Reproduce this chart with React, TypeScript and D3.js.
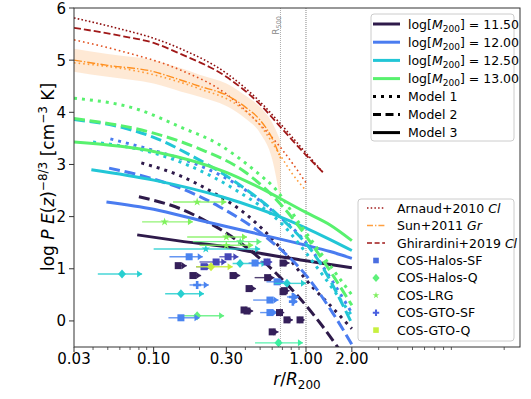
import React from 'react';
import * as d3 from 'd3';

const W = 531;
const H = 399;

// ---- model curves: [r/R200, log P] per halo mass and model ----
const m115Dot = [[0.083, 3.03], [0.15, 2.78], [0.246, 2.46], [0.41, 2.03], [0.67, 1.42], [1.1, 0.65], [1.44, 0.3], [2.0, -0.15]];
const m115Dash = [[0.08, 2.38], [0.15, 2.15], [0.225, 1.9], [0.37, 1.5], [0.67, 0.85], [1.23, -0.03], [2.0, -0.9]];
const m115Solid = [[0.078, 1.65], [0.15, 1.53], [0.3, 1.42], [0.43, 1.33], [0.92, 1.17], [1.44, 1.08], [2.0, 1.02]];
const m12Dot = [[0.052, 3.49], [0.105, 3.25], [0.2, 2.98], [0.35, 2.62], [0.58, 2.15], [1.0, 1.5], [1.5, 0.75], [2.0, 0.15]];
const m12Dash = [[0.051, 2.93], [0.1, 2.72], [0.149, 2.55], [0.27, 2.19], [0.55, 1.6], [1.03, 0.83], [1.5, 0.15], [2.0, -0.45]];
const m12Solid = [[0.049, 2.28], [0.1, 2.14], [0.2, 1.93], [0.45, 1.69], [1.0, 1.45], [1.44, 1.33], [2.0, 1.2]];
const m125Dot = [[0.04, 3.43], [0.1, 3.22], [0.17, 2.98], [0.35, 2.5], [0.7, 1.85], [1.2, 1.0], [2.0, 0.1]];
const m125Dash = [[0.03, 3.86], [0.06, 3.72], [0.1, 3.52], [0.174, 3.18], [0.35, 2.65], [0.67, 2.0], [1.2, 1.17], [2.0, -0.05]];
const m125Solid = [[0.039, 2.9], [0.1, 2.7], [0.28, 2.38], [0.67, 2.0], [1.44, 1.56], [2.0, 1.35]];
const m13Dot = [[0.03, 4.27], [0.08, 4.05], [0.149, 3.72], [0.27, 3.38], [0.36, 3.13], [0.48, 2.84], [0.63, 2.53], [0.92, 1.84], [2.0, 0.5]];
const m13Dash = [[0.03, 3.88], [0.1, 3.6], [0.2, 3.3], [0.4, 2.85], [0.7, 2.2], [1.2, 1.3], [2.0, 0.3]];
const m13Solid = [[0.03, 3.43], [0.1, 3.25], [0.3, 2.85], [0.456, 2.61], [1.0, 2.08], [1.44, 1.84], [2.0, 1.54]];

// ---- observed cluster / group profiles ----
const arnaudHi = [[0.03, 5.81], [0.06, 5.6], [0.1, 5.42], [0.15, 5.22], [0.3, 4.75], [0.5, 4.2], [0.67, 3.8], [1.0, 3.22], [1.3, 2.84]];
const arnaudMid = [[0.03, 5.39], [0.06, 5.18], [0.15, 4.81], [0.3, 4.35], [0.43, 3.95], [0.67, 3.35], [1.0, 2.65]];
const arnaudLo = [[0.03, 4.95], [0.1, 4.72], [0.2, 4.45], [0.35, 4.15], [0.5, 3.75], [0.67, 3.2], [0.8, 2.85], [1.0, 2.5]];
const ghirardini = [[0.03, 5.62], [0.06, 5.47], [0.1, 5.33], [0.15, 5.12], [0.3, 4.68], [0.5, 4.15], [0.67, 3.74], [1.0, 3.18], [1.3, 2.84]];
const sunX = [0.03, 0.05, 0.1, 0.15, 0.2, 0.3, 0.4, 0.5, 0.6, 0.68];
const sunY = [5.0, 4.9, 4.78, 4.62, 4.5, 4.33, 4.1, 3.85, 3.5, 3.12];
const sunLo = [4.78, 4.68, 4.55, 4.4, 4.3, 4.12, 3.88, 3.6, 3.1, 2.3];
const sunHi = [5.22, 5.12, 5.0, 4.85, 4.72, 4.55, 4.32, 4.1, 3.8, 3.45];

// ---- absorber lower limits ----
const obsX = [0.193, 0.118, 0.30, 0.37, 0.22, 0.30, 0.171, 0.257, 0.308, 0.369, 0.463, 0.555, 0.707, 0.145, 0.214, 0.238, 0.062, 0.181, 0.332, 0.56, 0.646, 0.75, 0.193, 0.423, 0.72, 0.82, 0.151, 0.58, 0.82, 0.392, 0.41, 0.58, 0.67, 0.193, 0.151, 0.75, 0.914, 0.60, 0.66, 0.707];
const obsLo = [0.134, 0.084, 0.166, 0.181, 0.10, 0.20, 0.127, 0.20, 0.27, 0.33, 0.42, 0.50, 0.707, 0.145, 0.19, 0.19, 0.043, 0.181, 0.332, 0.46, 0.55, 0.62, 0.172, 0.423, 0.72, 0.75, 0.119, 0.45, 0.78, 0.392, 0.41, 0.5, 0.67, 0.145, 0.125, 0.75, 0.914, 0.60, 0.463, 0.707];
const obsHi = [0.30, 0.181, 0.41, 0.51, 0.50, 0.45, 0.21, 0.30, 0.36, 0.55, 0.50, 0.60, 0.78, 0.165, 0.24, 0.33, 0.084, 0.205, 0.37, 0.62, 0.72, 1.0, 0.23, 0.47, 0.78, 0.9, 0.214, 0.66, 0.88, 0.43, 0.45, 0.65, 0.72, 0.29, 0.20, 0.82, 0.98, 0.66, 0.955, 0.76];
const obsY = [2.28, 1.90, 1.61, 1.52, 1.38, 1.45, 1.23, 1.13, 1.23, 1.10, 1.11, 1.13, 1.11, 1.06, 1.04, 1.04, 0.90, 0.87, 0.87, 0.83, 0.75, 0.72, 0.69, 0.62, 0.58, 0.46, 0.52, 0.40, 0.37, 0.21, 0.19, 0.16, 0.16, 0.10, 0.06, 0.02, 0.02, -0.21, -0.42, 0.56];
const obsKind = ['st', 'st', 'st', 'st', 'st', 'st', 'sq', 'sq', 'sq', 'dm', 'sq', 'sq', 'sq', 'sq', 'sq', 'dm', 'dm', 'sq', 'sq', 'sq', 'sq', 'dm', 'pl', 'sq', 'sq', 'pl', 'dm', 'sq', 'pl', 'sq', 'sq', 'sq', 'sq', 'dm', 'sq', 'sq', 'sq', 'sq', 'dm', 'sq'];
const obsColor = ['lgreen', 'lgreen', 'lgreen', 'green', 'cyan', 'lgreen', 'blue', 'indigo', 'indigo', 'cyan', 'blue', 'indigo', 'dark', 'dark', 'indigo', 'yellow', 'cyan', 'dark', 'dark', 'dark', 'blue', 'cyan', 'blue', 'dark', 'dark', 'blue', 'cyan', 'blue', 'blue', 'dark', 'dark', 'blue', 'dark', 'green', 'blue', 'dark', 'dark', 'dark', 'spring', 'dark'];

const massLabels = ['11.50', '12.00', '12.50', '13.00'];
const xTickValues = [0.03, 0.1, 0.3, 1, 2];
const xTickLabels = ['0.03', '0.10', '0.30', '1.00', '2.00'];
const yTickValues = [0, 1, 2, 3, 4, 5, 6];

const massColors = ['#2e1a4a', '#4a7cf0', '#22c6d6', '#58f16e'];
const pointColors: Record<string, string> = {
  dark: '#35205a', indigo: '#4647b8', blue: '#4a84f0', cyan: '#27cfd0',
  spring: '#3cf0a0', green: '#60f080', lgreen: '#80f25c', yellow: '#c6ee3c',
};

const x = d3.scaleLog().domain([0.03, 25.4]).range([74, 520]);
const y = d3.scaleLinear().domain([-0.5, 6]).range([347, 8]);
const line = d3.line<number[]>().x(d => x(d[0])).y(d => y(d[1])).curve(d3.curveMonotoneX);
const sunArea = d3.area<number>()
  .x((_, i) => x(sunX[i])).y0((_, i) => y(sunLo[i])).y1((_, i) => y(sunHi[i]))
  .curve(d3.curveMonotoneX);

const DOT = '3,5';
const DASH = '11,4.8';

function marker(kind: string, cx: number, cy: number, fill: string, s = 1) {
  if (kind === 'sq') return <rect x={cx - 3.5 * s} y={cy - 3.5 * s} width={7 * s} height={7 * s} fill={fill} />;
  if (kind === 'dm') return <path d={`M${cx},${cy - 4.5 * s}L${cx + 4 * s},${cy}L${cx},${cy + 4.5 * s}L${cx - 4 * s},${cy}Z`} fill={fill} />;
  if (kind === 'st') {
    const star = d3.symbol(d3.symbolStar, 22 * s * s)();
    return <path d={star || ''} transform={`translate(${cx},${cy})`} fill={fill} />;
  }
  return <path d={`M${cx - 4 * s},${cy}H${cx + 4 * s}M${cx},${cy - 4 * s}V${cy + 4 * s}`} stroke={fill} strokeWidth={2.6 * s} />;
}

const minorTicks: number[] = [];
[0.01, 0.1, 1, 10].forEach(dec => {
  for (let k = 2; k <= 9; k++) {
    const v = dec * k;
    if (v >= 0.03 && v <= 25.4 && !xTickValues.some(t => Math.abs(t - v) < 1e-9)) minorTicks.push(v);
  }
});

export default function App() {
  const models = [
    [m115Dot, m115Dash, m115Solid],
    [m12Dot, m12Dash, m12Solid],
    [m125Dot, m125Dash, m125Solid],
    [m13Dot, m13Dash, m13Solid],
  ];
  const font = 'DejaVu Sans, sans-serif';
  return (
    <svg width={W} height={H} style={{ position: 'absolute', left: 0, top: 0 }} fontFamily={font}>
      <defs>
        <clipPath id="plot"><rect x={74} y={8} width={446} height={339} /></clipPath>
      </defs>
      <rect width={W} height={H} fill="#fff" />
      <g clipPath="url(#plot)">
        {/* R500 and R200 markers */}
        <line x1={x(0.68)} x2={x(0.68)} y1={8} y2={347} stroke="#999" strokeWidth={0.8} strokeDasharray="1,1" />
        <line x1={x(1)} x2={x(1)} y1={8} y2={347} stroke="#777" strokeWidth={0.9} strokeDasharray="1,1" />
        {/* observed profiles */}
        <path d={sunArea(sunX) || ''} fill="#fdd4ac" opacity={0.5} />
        <path d={line(arnaudHi) || ''} fill="none" stroke="#8e0f0f" strokeWidth={1.6} strokeDasharray="1.6,2.2" />
        <path d={line(ghirardini) || ''} fill="none" stroke="#a01818" strokeWidth={1.8} strokeDasharray="7,3" />
        <path d={line(arnaudMid) || ''} fill="none" stroke="#e2501e" strokeWidth={1.6} strokeDasharray="1.6,3" />
        <path d={line(arnaudLo) || ''} fill="none" stroke="#ff9c3a" strokeWidth={1.6} strokeDasharray="1.6,3" />
        <path d={line(sunX.map((v, i) => [v, sunY[i]])) || ''} fill="none" stroke="#ff9020" strokeWidth={1.4} strokeDasharray="8,2,1.4,2" />
        {/* models */}
        {models.map((set, mi) => set.map((pts, k) => (
          <path key={`${mi}-${k}`} d={line(pts) || ''} fill="none" stroke={massColors[mi]} strokeWidth={3}
            strokeDasharray={k === 0 ? DOT : k === 1 ? DASH : undefined} />
        )))}
        {/* absorbers */}
        {obsX.map((v, i) => {
          const c = pointColors[obsColor[i]];
          const cy = y(obsY[i]);
          const xh = x(obsHi[i]);
          return (
            <g key={i}>
              <line x1={x(obsLo[i])} x2={xh} y1={cy} y2={cy} stroke={c} strokeWidth={1.4} opacity={0.85} />
              <path d={`M${xh - 5},${cy - 3.5}L${xh},${cy}L${xh - 5},${cy + 3.5}Z`} fill={c} />
              {marker(obsKind[i], x(v), cy, c)}
            </g>
          );
        })}
      </g>
      <text transform={`translate(${x(0.68) - 1},16) rotate(-90)`} textAnchor="end" fontSize={9} fill="#888">
        R<tspan fontSize={6.5} dy={2}>500</tspan>
      </text>

      {/* frame */}
      <rect x={74} y={8} width={446} height={339} fill="none" stroke="#333" strokeWidth={1} />

      {/* axes */}
      {yTickValues.map(t => (
        <g key={t}>
          <line x1={69} x2={74} y1={y(t)} y2={y(t)} stroke="#333" />
          <text x={66} y={y(t) + 5.5} textAnchor="end" fontSize={15}>{t}</text>
        </g>
      ))}
      {xTickValues.map((t, i) => (
        <g key={t}>
          <line x1={x(t)} x2={x(t)} y1={347} y2={352} stroke="#333" />
          <text x={x(t)} y={364} textAnchor="middle" fontSize={15}>{xTickLabels[i]}</text>
        </g>
      ))}
      {minorTicks.map(t => (
        <line key={t} x1={x(t)} x2={x(t)} y1={347} y2={350} stroke="#333" strokeWidth={0.8} />
      ))}

      <text x={297} y={385} textAnchor="middle" fontSize={17}>
        <tspan fontStyle="italic">r</tspan>/<tspan fontStyle="italic">R</tspan><tspan fontSize={12} dy={4}>200</tspan>
      </text>
      <text transform="translate(54,177) rotate(-90)" textAnchor="middle" fontSize={17}>
        log <tspan fontStyle="italic">P</tspan> <tspan fontStyle="italic">E</tspan>(<tspan fontStyle="italic">z</tspan>)
        <tspan fontSize={12} dy={-7}>−8/3</tspan><tspan dy={7}> [cm</tspan><tspan fontSize={12} dy={-7}>−3</tspan><tspan dy={7}> K]</tspan>
      </text>

      {/* legend: masses and models */}
      <rect x={371} y={14} width={143} height={127} rx={3} fill="#fff" fillOpacity={0.8} stroke="#ccc" />
      {massLabels.map((m, i) => {
        const ly = 24 + i * 18.2;
        return (
          <g key={m}>
            <line x1={373} x2={400} y1={ly} y2={ly} stroke={massColors[i]} strokeWidth={3} />
            <text x={408} y={ly + 4.5} fontSize={12.5}>
              log[<tspan fontStyle="italic">M</tspan><tspan fontSize={9} dy={3}>200</tspan><tspan dy={-3}>] = {m}</tspan>
            </text>
          </g>
        );
      })}
      {['Model 1', 'Model 2', 'Model 3'].map((m, i) => {
        const ly = 24 + (i + 4) * 18.1;
        return (
          <g key={m}>
            <line x1={373} x2={400} y1={ly} y2={ly} stroke="#000" strokeWidth={3}
              strokeDasharray={i === 0 ? DOT : i === 1 ? '8,4.5' : undefined} />
            <text x={408} y={ly + 4.5} fontSize={12.5}>{m}</text>
          </g>
        );
      })}

      {/* legend: observations */}
      <rect x={358} y={199} width={156} height={142} rx={3} fill="#fff" fillOpacity={0.8} stroke="#ccc" />
      {[
        { t: 'Arnaud+2010 ', it: 'Cl', c: '#a01818', dash: '1.5,2.2' },
        { t: 'Sun+2011 ', it: 'Gr', c: '#ffa040', dash: '6,2,1.4,2' },
        { t: 'Ghirardini+2019 ', it: 'Cl', c: '#a01818', dash: '5,2.6' },
      ].map((e, i) => {
        const ly = 208 + i * 17.5;
        return (
          <g key={e.t}>
            <line x1={367} x2={385} y1={ly} y2={ly} stroke={e.c} strokeWidth={1.5} strokeDasharray={e.dash} />
            <text x={397} y={ly + 4.5} fontSize={12.5}>{e.t}<tspan fontStyle="italic">{e.it}</tspan></text>
          </g>
        );
      })}
      {[
        { t: 'COS-Halos-SF', k: 'sq', c: '#4a6ee0', s: 0.8 },
        { t: 'COS-Halos-Q', k: 'dm', c: '#5ef07a', s: 0.9 },
        { t: 'COS-LRG', k: 'st', c: '#80f060', s: 0.8 },
        { t: 'COS-GTO-SF', k: 'pl', c: '#4a60e0', s: 0.8 },
        { t: 'COS-GTO-Q', k: 'sq', c: '#c8f040', s: 0.8 },
      ].map((e, i) => {
        const ly = 260.5 + i * 17.4;
        return (
          <g key={e.t}>
            {marker(e.k, 376, ly, e.c, e.s)}
            <text x={397} y={ly + 4.5} fontSize={12.5}>{e.t}</text>
          </g>
        );
      })}
    </svg>
  );
}
